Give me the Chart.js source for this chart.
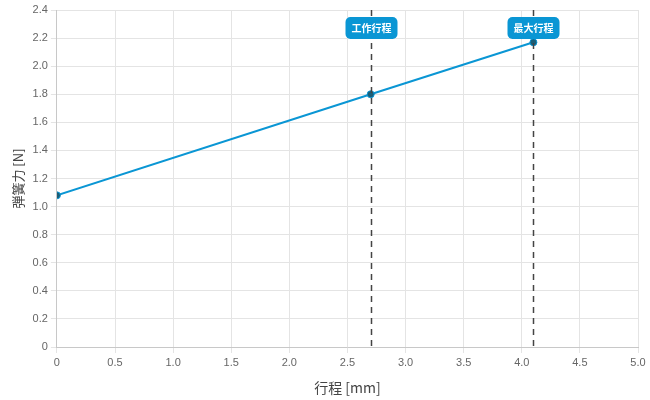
<!DOCTYPE html>
<html lang="ja">
<head>
    <meta charset="UTF-8">
    <title>弾簧力</title>
    <script src="https://cdn.jsdelivr.net/npm/chart.js"></script>
    <style>
        html, body { margin: 0; padding: 0; background: #fff; }
        #wrap { width: 650px; height: 400px; }
    </style>
</head>
<body>
    <div id="wrap"><canvas id="springChart"></canvas></div>

    <script>
        // data
        const strokeMm = [0, 2.7, 4.1];
        const forceN = [1.08, 1.8, 2.17];
        const markerPos = [2.7, 4.1];
        const markerLabels = ['工作行程', '最大行程'];

        const fontFamily = '"Liberation Sans", "Noto Sans CJK JP", sans-serif';
        const cjkFamily = '"Noto Sans CJK JP", "Noto Sans", sans-serif';

        // dashed vertical lines + rounded labels
        const markerPlugin = {
            id: 'markers',
            afterDatasetsDraw(chart) {
                const { ctx, chartArea, scales } = chart;
                ctx.save();
                markerPos.forEach((pos, i) => {
                    const x = Math.round(scales.x.getPixelForValue(pos)) + 0.5;
                    ctx.strokeStyle = '#444';
                    ctx.lineWidth = 1.5;
                    ctx.setLineDash([6, 5]);
                    ctx.beginPath();
                    ctx.moveTo(x, chartArea.top);
                    ctx.lineTo(x, chartArea.bottom);
                    ctx.stroke();
                    ctx.setLineDash([]);

                    ctx.font = 'bold 10px ' + cjkFamily;
                    const w = ctx.measureText(markerLabels[i]).width + 12;
                    const h = 22;
                    const cy = chartArea.top + 18;
                    ctx.fillStyle = '#0a96d4';
                    ctx.beginPath();
                    ctx.roundRect(x - w / 2, cy - h / 2, w, h, 5);
                    ctx.fill();
                    ctx.fillStyle = '#fff';
                    ctx.textAlign = 'center';
                    ctx.textBaseline = 'middle';
                    ctx.fillText(markerLabels[i], x, cy);
                });
                ctx.restore();
            }
        };

        const ctx = document.getElementById('springChart').getContext('2d');
        const springChart = new Chart(ctx, {
            type: 'line',
            data: {
                datasets: [{
                    label: '弾簧力',
                    data: strokeMm.map((x, i) => ({ x: x, y: forceN[i] })),
                    borderColor: '#0a96d4',
                    borderWidth: 2,
                    pointRadius: 3.5,
                    pointBackgroundColor: '#1b5e78',
                    pointBorderColor: '#0a96d4',
                    pointBorderWidth: 1,
                    tension: 0
                }]
            },
            options: {
                responsive: true,
                maintainAspectRatio: false,
                animation: false,
                layout: { padding: { top: 10, right: 12, left: 6, bottom: 0 } },
                plugins: {
                    legend: { display: false },
                    tooltip: { enabled: false }
                },
                scales: {
                    x: {
                        type: 'linear',
                        min: 0,
                        max: 5,
                        ticks: {
                            stepSize: 0.5,
                            color: '#666',
                            font: { size: 11, family: fontFamily },
                            callback: v => v === 0 ? '0' : v.toFixed(1)
                        },
                        grid: { color: '#e4e4e4', tickLength: 6 },
                        border: { color: '#c8c8c8' },
                        title: {
                            display: true,
                            text: '行程 [mm]',
                            color: '#444',
                            font: { size: 14, family: cjkFamily },
                            padding: { top: 7, bottom: 4 }
                        }
                    },
                    y: {
                        min: 0,
                        max: 2.4,
                        ticks: {
                            stepSize: 0.2,
                            color: '#666',
                            font: { size: 11, family: fontFamily },
                            callback: v => v === 0 ? '0' : v.toFixed(1)
                        },
                        grid: { color: '#e4e4e4', tickLength: 6 },
                        border: { color: '#c8c8c8' },
                        title: {
                            display: true,
                            text: '弾簧力 [N]',
                            color: '#444',
                            font: { size: 13, family: cjkFamily }
                        }
                    }
                }
            },
            plugins: [markerPlugin]
        });
    </script>
</body>
</html>
